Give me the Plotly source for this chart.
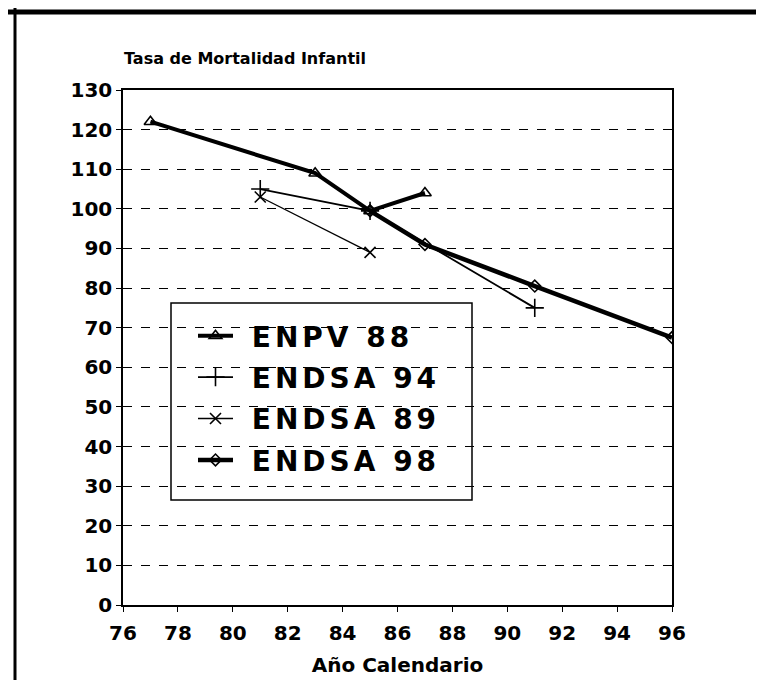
import plotly.graph_objects as go

# ---- data ----
enpv88_x = [77, 83, 85, 87]
enpv88_y = [122, 109, 99.5, 104]
endsa94_x = [81, 85, 91]
endsa94_y = [105, 99.5, 75]
endsa89_x = [81, 85]
endsa89_y = [103, 89]
endsa98_x = [85, 87, 91, 96]
endsa98_y = [99.5, 91, 80.5, 67.5]

series_names = ["ENPV 88", "ENDSA 94", "ENDSA 89", "ENDSA 98"]
x_ticks = [76, 78, 80, 82, 84, 86, 88, 90, 92, 94, 96]
y_ticks = list(range(0, 131, 10))

FONT = "DejaVu Sans, Verdana, sans-serif"

fig = go.Figure()
styles = [
    (4, "triangle-up-open", 11),
    (1.8, "cross-thin", 13),
    (1.3, "x-thin", 11),
    (4.5, "diamond-open", 9),
]
datasets = [(enpv88_x, enpv88_y), (endsa94_x, endsa94_y),
            (endsa89_x, endsa89_y), (endsa98_x, endsa98_y)]
for i, (name, (xs, ys), (w, sym, ms)) in enumerate(zip(series_names, datasets, styles)):
    fig.add_trace(go.Scatter(
        x=xs, y=ys, mode="lines+markers", legendgroup=str(i),
        name='<span style="letter-spacing:4px">&nbsp;' + name + '</span>',
        line=dict(color="black", width=w),
        marker=dict(symbol=sym, size=ms, color="black",
                    line=dict(color="black", width=1.6)),
    ))

L, R, T, B = 115, 100, 82, 83
W, H = 764, 680
pw, ph = W - L - R, H - T - B

def px(x):
    return (x - L) / pw

def py(y):
    return (H - B - y) / ph

axis_common = dict(
    showline=True, linecolor="black", linewidth=1.5,
    ticks="outside", ticklen=5, tickcolor="black",
    tickfont=dict(family=FONT, size=20, color="black", weight="bold"),
    zeroline=False,
)

fig.update_layout(
    width=W, height=H,
    margin=dict(l=L, r=R, t=T, b=B),
    paper_bgcolor="white", plot_bgcolor="white",
    xaxis=dict(range=[76, 96], tickvals=x_ticks, showgrid=False, mirror=True,
               ticklabelstandoff=4,
               title=dict(text="Año Calendario", standoff=14,
                          font=dict(family=FONT, size=20, color="black", weight="bold")),
               **axis_common),
    yaxis=dict(range=[0, 130], tickvals=y_ticks, showgrid=True,
               gridcolor="black", gridwidth=1, griddash="dash", mirror=True,
               **axis_common),
    yaxis2=dict(range=[0, 130], tickvals=y_ticks, overlaying="y", side="right",
                showgrid=False, **axis_common),
    legend=dict(x=px(185), y=py(303), xanchor="left", yanchor="top",
                bgcolor="rgba(0,0,0,0)", borderwidth=0, tracegroupgap=2,
                itemwidth=35,
                font=dict(family=FONT, size=28, color="black", weight="bold")),
    showlegend=True,
    shapes=[
        dict(type="rect", xref="paper", yref="paper",
             x0=px(163), x1=px(464), y0=py(492), y1=py(295),
             line=dict(color="black", width=1.5), fillcolor="white", layer="below"),
        dict(type="line", xref="paper", yref="paper",
             x0=px(0), x1=px(764), y0=py(4), y1=py(4),
             line=dict(color="black", width=5)),
        dict(type="line", xref="paper", yref="paper",
             x0=px(7), x1=px(7), y0=py(0), y1=py(680),
             line=dict(color="black", width=3)),
    ],
    annotations=[
        dict(text="Tasa de Mortalidad Infantil", xref="paper", yref="paper",
             x=px(114), y=py(51), xanchor="left", yanchor="middle", showarrow=False,
             font=dict(family=FONT, size=16, color="black", weight="bold")),
    ],
)

fig.write_html("out.html")
